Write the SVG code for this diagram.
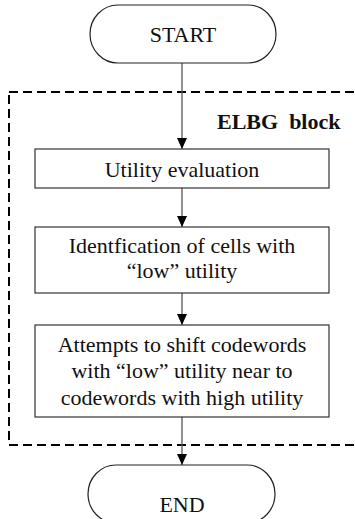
<svg xmlns="http://www.w3.org/2000/svg" width="355" height="519" viewBox="0 0 355 519">
<style>
.t{font-family:"Liberation Serif","Times New Roman",serif;font-size:22px;fill:#111;text-anchor:middle}
.b{font-weight:bold;text-anchor:start;white-space:pre}
.box{fill:#fff;stroke:#333;stroke-width:1.2}
.term{fill:#fff;stroke:#222;stroke-width:1.2}
.ln{stroke:#555;stroke-width:1.3;fill:none;marker-end:url(#ah)}
</style>
<defs>
<marker id="ah" markerUnits="userSpaceOnUse" markerWidth="12" markerHeight="12" viewBox="0 0 12 12" refX="11" refY="6" orient="auto">
<path d="M0,1 L11,6 L0,11 Z" fill="#000"/>
</marker>
</defs>
<rect x="9" y="92" width="360" height="353" fill="none" stroke="#000" stroke-width="2" stroke-dasharray="9 5"/>
<text class="t b" x="217" y="129">ELBG  block</text>
<g id="connectors">
<path class="ln" d="M182,63 V149"/>
<path class="ln" d="M182,188 V227"/>
<path class="ln" d="M182,293 V325"/>
<path class="ln" d="M182,417 V465"/>
</g>
<g id="start">
<rect class="term" x="90" y="5" width="186" height="58" rx="28" ry="29"/>
<text class="t" x="183" y="42">START</text>
</g>
<g id="utility">
<rect class="box" x="35" y="149" width="294" height="39"/>
<text class="t" x="182" y="177">Utility evaluation</text>
</g>
<g id="identification">
<rect class="box" x="35" y="227" width="294" height="66"/>
<text class="t" x="182" y="253">Identfication of cells with</text>
<text class="t" x="182" y="278">“low” utility</text>
</g>
<g id="attempts">
<rect class="box" x="35" y="325" width="294" height="92"/>
<text class="t" x="182" y="352">Attempts to shift codewords</text>
<text class="t" x="182" y="378">with “low” utility near to</text>
<text class="t" x="182" y="405">codewords with high utility</text>
</g>
<g id="end">
<rect class="term" x="88" y="465" width="187" height="58" rx="28" ry="29"/>
<text class="t" x="182" y="512">END</text>
</g>
</svg>
